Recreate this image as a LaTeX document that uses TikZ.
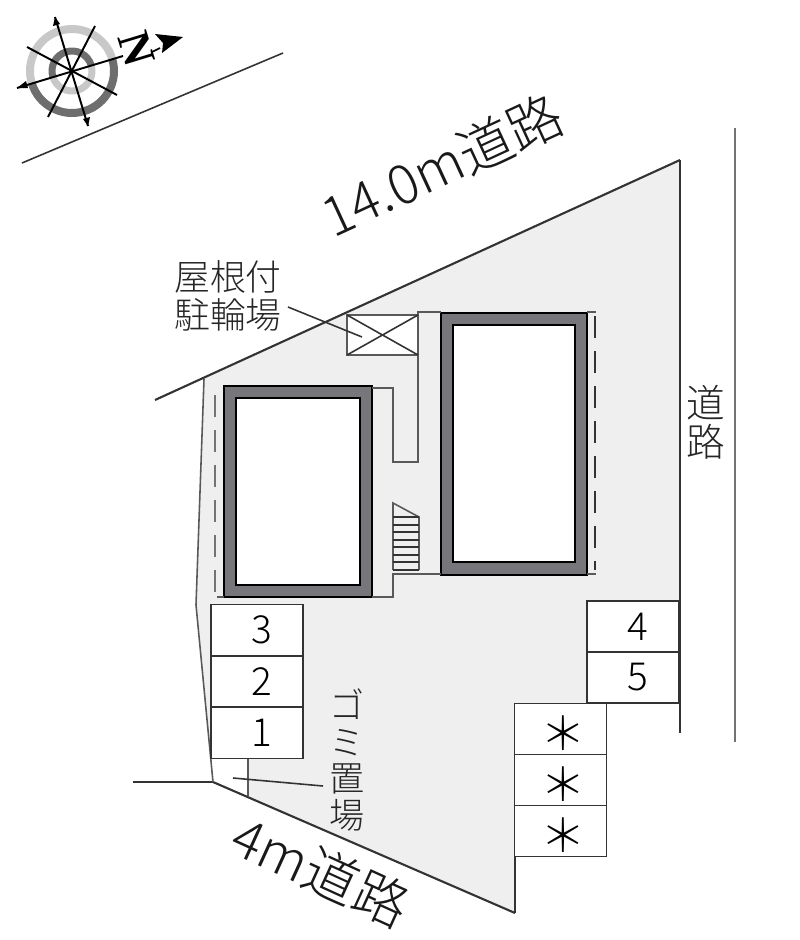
\documentclass[tikz,border=0pt]{standalone}
\usepackage{fontspec}
\newfontfamily\cjk{Noto Sans CJK JP Light}
\newfontfamily\lettern{Liberation Serif}
\definecolor{siteGray}{HTML}{EFEFEF}
\definecolor{wallGray}{HTML}{77767A}
\definecolor{ringLight}{HTML}{C8C8C8}
\definecolor{ringDark}{HTML}{6E6E6E}
\begin{document}
\begin{tikzpicture}[x=0.1mm,y=0.1mm]
      \tikzstyle{every node}+=[inner sep=0pt]
      \tikzstyle{thinline}=[black!80, line width=0.45pt]
      \tikzstyle{grayline}=[black!65, line width=0.45pt]
      \tikzstyle{slotbox}=[draw=black!80, fill=white, line width=0.5pt, minimum width=9.2mm, minimum height=5.1mm, font=\cjk\fontsize{11}{11}\selectfont]
      \tikzstyle{maplabel}=[font=\cjk\fontsize{10.2}{11}\selectfont, align=center, text=black!85]
      \tikzstyle{roadlabel}=[font=\cjk\fontsize{15.5}{15.5}\selectfont, text=black!90]
      \useasboundingbox (0,0) rectangle (800,-940);
      % site
      \coordinate (roadW) at (155,-400);
      \coordinate (siteNW) at (204,-379);
      \coordinate (siteNE) at (680,-160);
      \coordinate (siteE) at (680,-733);
      \coordinate (siteSE) at (515,-913);
      \coordinate (siteSW) at (213,-782);
      \coordinate (siteW) at (196,-605);
      \coordinate (roadSW) at (133,-782);
      \coordinate (binTop) at (248,-758);
      \coordinate (binBot) at (248,-796);
      \fill [siteGray] (siteNW) -- (siteNE) -- (680,-704) -- (515,-704) -- (siteSE) -- (siteSW) -- (siteW) -- cycle;
      \fill [white] (210,-758) -- (binTop) -- (binBot) -- (siteSW) -- cycle;
      \draw [thinline, line width=0.6pt] (roadW) -- (siteNE);
      \draw [thinline] (siteNE) -- (siteE);
      \draw [thinline, line width=0.6pt] (siteSW) -- (siteSE);
      \draw [thinline] (roadSW) -- (siteSW);
      \draw [grayline] (siteNW) -- (siteW) -- (siteSW);
      \draw [thinline] (515,-856) -- (siteSE);
      \draw [grayline] (binTop) -- (binBot);
      % roads
      \coordinate (roadNa) at (22,-163);
      \coordinate (roadNb) at (283,-53);
      \coordinate (roadEa) at (735,-128);
      \coordinate (roadEb) at (735,-742);
      \draw [thinline] (roadNa) -- (roadNb);
      \draw [black!55, line width=0.6pt] (roadEa) -- (roadEb);
      % buildings
      \draw [black, fill=wallGray, line width=0.8pt] (224,-386) rectangle (372,-597);
      \draw [black, fill=white, line width=0.75pt] (236,-398) rectangle (360,-585);
      \draw [black, fill=wallGray, line width=0.8pt] (441,-313) rectangle (587,-575);
      \draw [black, fill=white, line width=0.75pt] (453,-325) rectangle (575,-562);
      \draw [black!55, line width=0.6pt, dash pattern=on 2.2mm off 1.3mm] (215,-592) -- (215,-388) -- (219,-388);
      \draw [grayline] (217,-597) -- (224,-597);
      \draw [thinline, dash pattern=on 2.2mm off 1.3mm] (595,-316) -- (595,-570);
      \draw [grayline] (587,-312) -- (596,-312);
      \draw [grayline] (587,-574) -- (596,-574);
      % walkway
      \draw [grayline] (372,-388) -- (393,-388) -- (393,-462) -- (418,-462) -- (418,-312) -- (441,-312);
      \draw [grayline] (372,-597) -- (393,-597) -- (393,-574) -- (441,-574);
      % bicycle shed
      \draw [grayline, fill=white] (347,-315) rectangle (418,-355);
      \draw [thinline] (347,-315) -- (418,-355);
      \draw [thinline] (347,-355) -- (418,-315);
      % stairs
      \draw [grayline] (393,-570) -- (393,-503) -- (419,-517) -- (419,-570);
      \foreach \y in {517,525,532,540,547,555,562,570}
        \draw [thinline] (393,-\y) -- (419,-\y);
      % parking
      \node [slotbox] (slot3) at (257,-630) {\kern1mm 3};
      \node [slotbox] (slot2) at (257,-681.5) {\kern1mm 2};
      \node [slotbox] (slot1) at (257,-733) {\kern1mm 1};
      \node [slotbox] (slot4) at (633,-626.5) {\kern1mm 4};
      \node [slotbox] (slot5) at (633,-677.5) {\kern1mm 5};
      \node [slotbox, font=\cjk\fontsize{13}{13}\selectfont] (slot6) at (560.5,-729) {\kern.6mm\rule{0pt}{4.4mm}＊};
      \node [slotbox, font=\cjk\fontsize{13}{13}\selectfont] (slot7) at (560.5,-780) {\kern.6mm\rule{0pt}{4.4mm}＊};
      \node [slotbox, font=\cjk\fontsize{13}{13}\selectfont] (slot8) at (560.5,-831) {\kern.6mm\rule{0pt}{4.4mm}＊};
      % labels
      \node [roadlabel, rotate=24.8] (road14) at (442,-165) {14.0m道路};
      \node [roadlabel, rotate=-24.5] (road4) at (321,-871) {4m道路};
      \node [maplabel] (shedtext) at (228,-296) {屋根付\\駐輪場};
      \node [maplabel, font=\cjk\fontsize{11}{11}\selectfont] (roadtext) at (706,-422) {道\\路};
      \node [maplabel, font=\cjk\fontsize{10}{10.5}\selectfont] (bintext) at (347,-760) {ゴ\\ミ\\置\\場};
      \coordinate (shedA) at (288,-307);
      \coordinate (shedB) at (362,-337);
      \coordinate (binA) at (233,-778);
      \coordinate (binB) at (323,-786);
      \draw [thinline] (shedA) -- (shedB);
      \draw [thinline] (binA) -- (binB);
      % compass
      \coordinate (compass) at (72,-71);
      \draw [ringLight, line width=0.8mm] ([shift=(17:42)]compass) arc (17:197:42);
      \draw [ringDark, line width=0.8mm] ([shift=(197:42)]compass) arc (197:377:42);
      \draw [ringDark, line width=0.7mm] ([shift=(17:20)]compass) arc (17:197:20);
      \draw [ringLight, line width=0.7mm] ([shift=(197:20)]compass) arc (197:377:20);
      \coordinate (axisNa) at (55,-17);
      \coordinate (axisNb) at (88,-126);
      \coordinate (axisEa) at (17,-88);
      \coordinate (axisEb) at (123,-56);
      \coordinate (axisPa) at (95,-26);
      \coordinate (axisPb) at (48,-117);
      \coordinate (axisQa) at (27,-47);
      \coordinate (axisQb) at (117,-95);
      \draw [black, line width=0.55pt] (axisNa) -- (axisNb);
      \draw [black, line width=0.55pt] (axisEa) -- (axisEb);
      \draw [black, line width=0.55pt] (axisPa) -- (axisPb);
      \draw [black, line width=0.55pt] (axisQa) -- (axisQb);
      \fill [black] (axisNa) -- (53,-26) -- (60,-24);
      \fill [black] (axisNb) -- (90,-117) -- (83,-119);
      \fill [black] (axisEa) -- (26,-81) -- (28,-88);
      \node [font=\lettern\bfseries\fontsize{13}{13}\selectfont, rotate=-73] (north) at (137,-49) {N};
      \coordinate (dashA) at (152,-52);
      \coordinate (dashB) at (160,-48);
      \draw [thinline, black] (dashA) -- (dashB);
      \fill [black] (183,-37) -- (155,-34) -- (163,-43) -- (162,-53) -- cycle;
\end{tikzpicture}
\end{document}
